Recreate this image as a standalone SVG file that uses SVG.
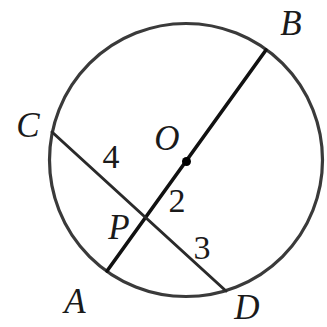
<svg xmlns="http://www.w3.org/2000/svg" width="327" height="327" viewBox="0 0 327 327">
<style>
text{fill:#1a1a1a;text-anchor:middle}
.lbl{font-style:italic}
.ln{fill:none;stroke-linecap:round}
</style>
<rect width="327" height="327" fill="#ffffff"/>
<g id="circle"><circle cx="186" cy="160" r="136.5" class="ln" stroke-width="3.2" stroke="#3a3a3a"/></g>
<g id="connectors">
<line x1="107" y1="271" x2="266" y2="50" class="ln" stroke-width="3.6" stroke="#111"/>
<line x1="52" y1="132" x2="226" y2="291" class="ln" stroke-width="3" stroke="#2a2a2a"/>
</g>
<g font-family="Liberation Serif, Times New Roman, DejaVu Serif, serif" font-size="35">
<g id="O"><circle cx="186.5" cy="161.5" r="4.5" fill="#000"/><text class="lbl" x="167" y="150">O</text></g>
<g id="B"><text class="lbl" x="291" y="35">B</text></g>
<g id="C"><text class="lbl" x="28" y="137">C</text></g>
<g id="A"><text class="lbl" x="75" y="313">A</text></g>
<g id="D"><text class="lbl" x="247" y="319">D</text></g>
<g id="P"><text class="lbl" x="119" y="239">P</text></g>
<g id="labels" font-size="34">
<text x="111" y="168">4</text>
<text x="177" y="212">2</text>
<text x="202" y="259">3</text>
</g>
</g>
</svg>
